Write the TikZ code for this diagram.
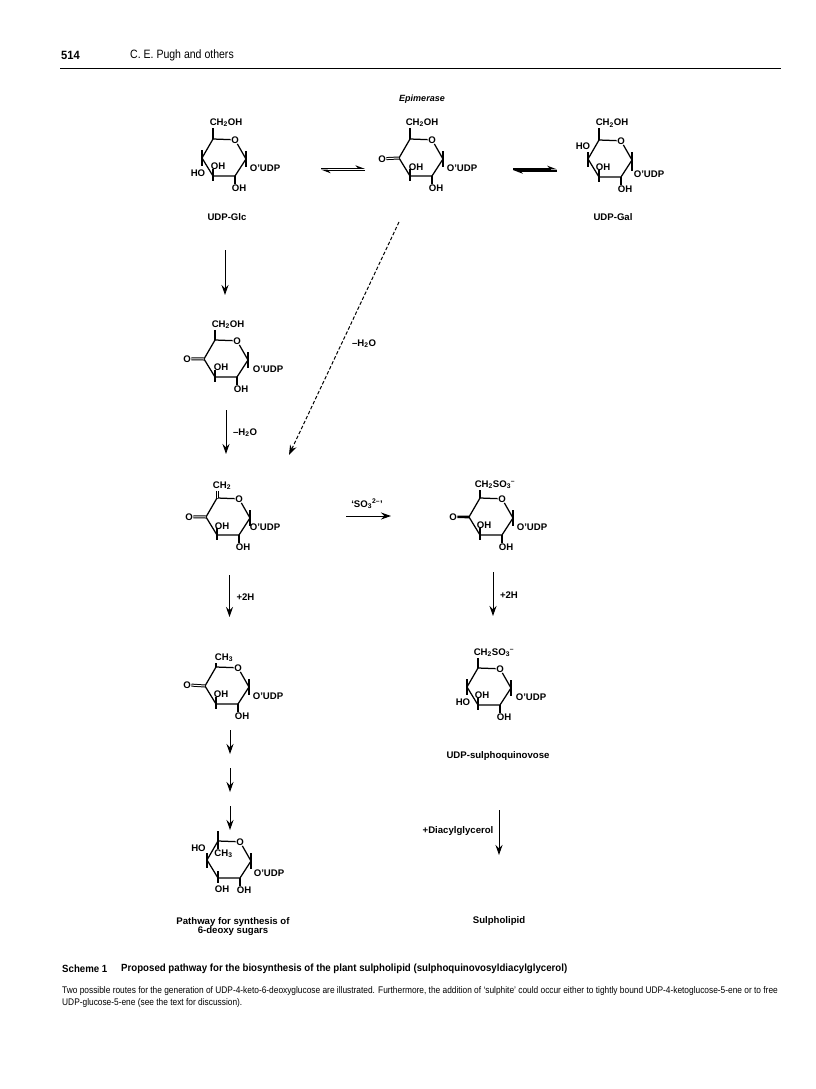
\documentclass[tikz,border=0pt]{standalone}
\usepackage{fontspec}
\setmainfont{Liberation Sans}
\newfontfamily\narrowfont{Liberation Sans}[FakeStretch=0.87]
\newfontfamily\widefont{Liberation Sans}[FakeStretch=0.93]
\usetikzlibrary{arrows.meta,positioning,calc}

\tikzset{
  lab/.style={inner sep=0.5pt,yshift=-0.8pt,font=\bfseries\fontsize{9.6}{10}\selectfont,align=center},
  bond/.style={line width=1.25pt},
  dbond/.style={double,line width=1pt,double distance=1pt},
  arr/.style={-{Stealth[length=10pt,width=7pt]},line width=1pt},
  eq/.style={-{Stealth[harpoon,length=8pt,width=6pt]}},
  pics/sugar/.style={code={
    \coordinate (c5) at (0,0);
    \coordinate (c1) at (33,20);
    \coordinate (c2) at (22,37);
    \coordinate (c3) at (0,37);
    \coordinate (c4) at (-11,19);
    \node[lab] (o) at (22,0) {O};
    \node[lab] (oh) at (26,48) {OH};
    \draw[bond,line join=round] (o) -- (c1) -- (c2) -- (c3) -- (c4) -- (c5) -- (o);
    \draw[bond] (c1) ++(0,-8) -- ++(0,16);
    \draw[bond] (c2) -- (c2 |- oh.north);
    \draw[bond] (c3) ++(0,-7) -- ++(0,12);
  }}
}

\begin{document}
\begin{tikzpicture}[x=1pt,y=-1pt]
\useasboundingbox (0,0) rectangle (816,1089);

% running head
\node[anchor=west,inner sep=0pt,font=\widefont\bfseries\fontsize{12}{12}\selectfont] (page) at (61,55) {514};
\node[anchor=west,inner sep=0pt,font=\narrowfont\fontsize{12.1}{12}\selectfont] (head) at (130,55) {C. E. Pugh and others};
\coordinate (ruleA) at (60,68.5);
\coordinate (ruleB) at (781,68.5);
\draw[line width=0.8pt] (ruleA) -- (ruleB);

% top row
\node[lab,font=\bfseries\itshape\fontsize{9}{10}\selectfont] (epi) at (422,98) {Epimerase};

\pic (glc-) at (213,139) {sugar};
\node[lab] (glc-sub) at (226,122) {CH\textsubscript{2}OH};
\node[lab] (glc-in) at (218,165) {OH};
\node[lab] (glc-ho) at (198,172) {HO};
\node[lab] (glc-udp) at (265,167) {O'UDP};
\draw[bond] (glc-c5) -- (glc-c5 |- glc-sub.south);
\draw[bond] (glc-c4) ++(0,-8) -- ++(0,16);
\node[lab] (glc-name) at (227,216) {UDP-Glc};

\pic (ket-) at (410,139) {sugar};
\node[lab] (ket-sub) at (422,122) {CH\textsubscript{2}OH};
\node[lab] (ket-in) at (416,166) {OH};
\node[lab] (ket-o) at (382,158) {O};
\node[lab] (ket-udp) at (462,167) {O'UDP};
\draw[bond] (ket-c5) -- (ket-c5 |- ket-sub.south);
\draw[dbond] (ket-c4) -- (ket-o);

\pic (gal-) at (599,140) {sugar};
\node[lab] (gal-sub) at (612,122.5) {CH\textsubscript{2}OH};
\node[lab] (gal-in) at (603,166.5) {OH};
\node[lab] (gal-ho) at (583,145) {HO};
\node[lab] (gal-udp) at (649,173) {O'UDP};
\draw[bond] (gal-c5) -- (gal-c5 |- gal-sub.south);
\draw[bond] (gal-c4) ++(0,-7) -- ++(0,15);
\draw[bond] (gal-c1) ++(0,8) -- ++(0,3);
\node[lab] (gal-name) at (613,216) {UDP-Gal};

% equilibria
\coordinate (eqA1) at (321,168.3);
\coordinate (eqA2) at (365,168.3);
\coordinate (eqA3) at (321,170.2);
\coordinate (eqA4) at (365,170.2);
\draw[eq,line width=1.2pt] (eqA1) -- (eqA2);
\draw[eq,line width=1.2pt] (eqA4) -- (eqA3);
\coordinate (eqB1) at (513,168.7);
\coordinate (eqB2) at (557,168.7);
\coordinate (eqB3) at (513,170.7);
\coordinate (eqB4) at (557,170.7);
\draw[eq,line width=1.8pt] (eqB1) -- (eqB2);
\draw[eq,line width=1.8pt] (eqB4) -- (eqB3);

% left column
\coordinate (a1) at (225,250);
\coordinate (a2) at (225,295);
\draw[arr] (a1) -- (a2);

\pic (oxo-) at (215,340) {sugar};
\node[lab] (oxo-sub) at (228,324) {CH\textsubscript{2}OH};
\node[lab] (oxo-in) at (221,366) {OH};
\node[lab] (oxo-o) at (187,358) {O};
\node[lab] (oxo-udp) at (268,368) {O'UDP};
\draw[bond] (oxo-c5) -- (oxo-c5 |- oxo-sub.south);
\draw[dbond] (oxo-c4) -- (oxo-o);

\coordinate (a3) at (226,410);
\coordinate (a4) at (226,454);
\draw[arr] (a3) -- node[lab,right=6pt] (a34) {–H\textsubscript{2}O} (a4);

\coordinate (d1) at (399,222);
\coordinate (d2) at (289,455);
\draw[arr,dash pattern=on 3.5pt off 2pt] (d1) -- (d2);
\node[lab] (dlab) at (364,343) {–H\textsubscript{2}O};

\pic (ene-) at (217,498) {sugar};
\node[lab] (ene-sub) at (222,485) {CH\textsubscript{2}};
\node[lab] (ene-in) at (222,525) {OH};
\node[lab] (ene-o) at (189,516) {O};
\node[lab] (ene-udp) at (265,526.5) {O'UDP};
\draw[dbond] (ene-c5) -- (ene-c5 |- ene-sub.south);
\draw[dbond] (ene-c4) -- (ene-o);

\coordinate (s1) at (346,516);
\coordinate (s2) at (391,516);
\draw[arr] (s1) -- (s2);
\node[lab] (slab) at (367,503) {‘SO\textsubscript{3}\textsuperscript{2–}’};

\pic (sul-) at (480,498) {sugar};
\node[lab] (sul-sub) at (495,484) {CH\textsubscript{2}SO\textsubscript{3}\textsuperscript{–}};
\node[lab] (sul-in) at (484,524) {OH};
\node[lab] (sul-o) at (453,516) {O};
\node[lab] (sul-udp) at (532,526.5) {O'UDP};
\draw[bond] (sul-c5) -- (sul-c5 |- sul-sub.south);
\draw[line width=2.6pt] (sul-c4) -- (sul-o);

\coordinate (a5) at (229.5,575);
\coordinate (a6) at (229.5,617);
\draw[arr] (a5) -- node[lab,right=6pt] (a56) {+2H} (a6);
\coordinate (b1) at (493,572);
\coordinate (b2) at (493,616);
\draw[arr] (b1) -- node[lab,right=6pt] (b12) {+2H} (b2);

\pic (me-) at (216,667) {sugar};
\node[lab] (me-sub) at (224,657) {CH\textsubscript{3}};
\node[lab] (me-in) at (221,693) {OH};
\node[lab] (me-o) at (187,684) {O};
\node[lab] (me-udp) at (268,695) {O'UDP};
\draw[bond] (me-c5) -- (me-c5 |- me-sub.south);
\draw[dbond] (me-c4) -- (me-o);

\pic (qui-) at (478,668) {sugar};
\node[lab] (qui-sub) at (494,652) {CH\textsubscript{2}SO\textsubscript{3}\textsuperscript{–}};
\node[lab] (qui-in) at (482,694) {OH};
\node[lab] (qui-ho) at (463,701) {HO};
\node[lab] (qui-udp) at (531,696.5) {O'UDP};
\draw[bond] (qui-c5) -- (qui-c5 |- qui-sub.south);
\draw[bond] (qui-c4) ++(0,-8) -- ++(0,16);
\node[lab] (qui-name) at (498,755) {UDP-sulphoquinovose};

% three short steps
\foreach \y [count=\i] in {730,768,806} {
  \coordinate (c\i a) at (230,\y);
  \coordinate (c\i b) at (230,\y+24);
  \draw[arr] (c\i a) -- (c\i b);
}

\coordinate (e1) at (499,810);
\coordinate (e2) at (499,855);
\draw[arr] (e1) -- (e2);
\node[lab] (elab) at (458,830) {+Diacylglycerol};

\pic (deo-) at (218,841) {sugar};
\node[lab] (deo-sub) at (223.5,853) {CH\textsubscript{3}};
\node[lab] (deo-ho) at (198.5,847) {HO};
\node[lab] (deo-oh) at (222,888) {OH};
\node[lab] (deo-udp) at (269,872.5) {O'UDP};
\draw[bond] (deo-c5) ++(0,-10) -- ++(0,18);
\draw[bond] (deo-c4) ++(0,-7) -- ++(0,15);
\node[lab] (deo-name) at (233,925.5) {Pathway for synthesis of\\[-1.5pt]6-deoxy sugars};
\node[lab] (lipid) at (499,920) {Sulpholipid};

% caption
\node[anchor=west,inner sep=0pt,font=\widefont\bfseries\fontsize{10.4}{11}\selectfont] (cap1) at (62,968.5) {Scheme 1};
\node[anchor=west,inner sep=0pt,font=\widefont\bfseries\fontsize{10.4}{11}\selectfont] (cap2) at (121,968.5) {Proposed pathway for the biosynthesis of the plant sulpholipid (sulphoquinovosyldiacylglycerol)};
\node[anchor=west,inner sep=0pt,font=\narrowfont\fontsize{9.6}{11}\selectfont] (txt1) at (62,991) {Two possible routes for the generation of UDP-4-keto-6-deoxyglucose are illustrated. Furthermore, the addition of ‘sulphite’ could occur either to tightly bound UDP-4-ketoglucose-5-ene or to free};
\node[anchor=west,inner sep=0pt,font=\narrowfont\fontsize{9.6}{11}\selectfont] (txt2) at (62,1003) {UDP-glucose-5-ene (see the text for discussion).};
\end{tikzpicture}
\end{document}
